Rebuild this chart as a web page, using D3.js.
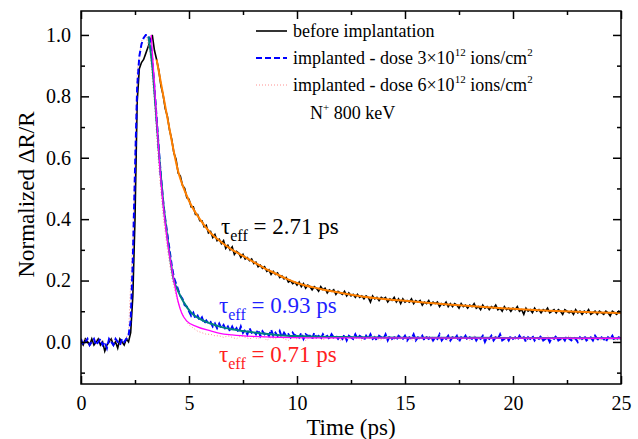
<!DOCTYPE html>
<html><head><meta charset="utf-8">
<script src="https://cdn.jsdelivr.net/npm/d3@7"></script>
<style>
body{margin:0;background:#fff}
svg{display:block}
</style>
</head><body>
<svg id="c" width="638" height="439"></svg>
<script>
// ---- data ----
const stepBefore = 0.1;   // ps between samples, starting at 0
const beforeValues = [
0.00,-0.01,0.01,0.00,-0.01,0.01,-0.01,0.00,0.01,-0.01,
0.00,-0.03,-0.01,0.00,0.01,-0.01,0.00,-0.02,0.01,0.00,
-0.01,0.01,0.00,0.03,0.15,0.40,0.78,0.89,0.91,0.92,
0.94,0.96,0.98,1.00,0.95,0.92,0.885,0.835,0.805,0.76,
0.735,0.69,0.66,0.615,0.595,0.55,0.54,0.51,0.50,0.47,
0.465,0.44,0.44,0.415,0.415,0.395,0.395,0.375,0.38,0.355,
0.36,0.34,0.35,0.33,0.335,0.32,0.33,0.305,0.315,0.30,
0.31,0.285,0.295,0.29,0.275,0.285,0.27,0.275,0.265,0.27,
0.255,0.26,0.245,0.25,0.24,0.245,0.23,0.235,0.22,0.23,
0.22,0.225,0.21,0.215,0.205,0.21,0.195,0.20,0.19,0.195,
0.185,0.195,0.18,0.19,0.175,0.185,0.18,0.17,0.18,0.175,
0.165,0.18,0.17,0.175,0.16,0.17,0.165,0.17,0.155,0.165,
0.16,0.155,0.165,0.15,0.16,0.15,0.155,0.145,0.155,0.145,
0.15,0.14,0.15,0.145,0.13,0.15,0.14,0.145,0.135,0.145,
0.14,0.145,0.13,0.14,0.135,0.145,0.13,0.14,0.125,0.14,
0.13,0.135,0.13,0.14,0.125,0.135,0.13,0.135,0.12,0.13,
0.125,0.135,0.12,0.13,0.125,0.13,0.115,0.125,0.12,0.13,
0.115,0.125,0.115,0.125,0.12,0.11,0.125,0.115,0.12,0.11,
0.12,0.115,0.125,0.11,0.115,0.105,0.12,0.11,0.115,0.105,
0.115,0.11,0.12,0.105,0.11,0.10,0.115,0.105,0.11,0.10,
0.11,0.105,0.115,0.10,0.105,0.09,0.11,0.10,0.105,0.095,
0.11,0.10,0.105,0.095,0.105,0.10,0.11,0.095,0.10,0.105,
0.095,0.105,0.10,0.09,0.105,0.10,0.095,0.10,0.09,0.105,
0.095,0.10,0.09,0.10,0.095,0.105,0.09,0.095,0.10,0.09,
0.10,0.095,0.09,0.10,0.095,0.085,0.10,0.095,0.09,0.10,
0.095];

const stepDose3 = 0.1;
const dose3Values = [
0.01,-0.01,0.00,0.01,-0.01,0.00,0.01,-0.01,0.00,0.01,
-0.01,0.00,-0.02,0.01,0.00,-0.01,0.01,0.00,-0.01,0.01,
0.00,0.01,0.02,0.07,0.27,0.56,0.83,0.93,0.97,0.99,
1.00,1.00,0.98,0.92,0.83,0.73,0.63,0.54,0.46,0.40,
0.35,0.30,0.25,0.21,0.19,0.17,0.15,0.14,0.12,0.115,
0.10,0.085,0.095,0.075,0.085,0.07,0.08,0.06,0.07,0.06,
0.065,0.05,0.06,0.045,0.06,0.045,0.055,0.04,0.05,0.035,
0.05,0.035,0.045,0.03,0.05,0.03,0.04,0.025,0.045,0.03,
0.035,0.025,0.04,0.02,0.035,0.025,0.03,0.02,0.04,0.02,
0.03,0.02,0.035,0.015,0.03,0.02,0.025,0.015,0.03,0.02,
0.025,0.015,0.03,0.01,0.025,0.02,0.02,0.01,0.03,0.015,
0.02,0.01,0.025,0.015,0.02,0.01,0.025,0.015,0.02,0.01,
0.02,0.01,0.025,0.005,0.02,0.015,0.01,0.025,0.01,0.02,
0.015,0.005,0.02,0.01,0.025,0.01,0.015,0.005,0.02,0.015,
0.01,0.025,0.005,0.02,0.01,0.015,0.005,0.02,0.015,0.01,
0.02,0.005,0.015,0.01,0.025,0.005,0.015,0.01,0.02,0.005,
0.015,0.01,0.02,0.005,0.015,0.01,0.025,0.005,0.015,0.01,
0.02,0.005,0.015,0.01,0.02,0.0,0.015,0.01,0.02,0.005,
0.015,0.01,0.02,0.005,0.015,0.01,0.02,0.0,0.015,0.01,
0.02,0.005,0.015,0.01,0.025,0.005,0.01,0.015,0.005,0.02,
0.01,0.015,0.005,0.02,0.01,0.015,0.0,0.015,0.01,0.02,
0.005,0.015,0.01,0.02,0.005,0.01,0.015,0.0,0.015,0.01,
0.02,0.005,0.01,0.015,0.005,0.02,0.01,0.005,0.015,0.01,
0.0,0.015,0.01,0.02,0.005,0.01,0.015,0.005,0.02,0.01,
0.005,0.015,0.01,0.0,0.015,0.01,0.02,0.005,0.01,0.015,
0.01];

const stepDose6 = 0.2;
const dose6Values = [
0.0,0.01,-0.01,0.0,0.01,0.0,-0.01,0.01,0.0,-0.01,
0.0,0.03,0.35,0.88,0.98,1.00,0.94,0.78,0.57,0.41,
0.30,0.21,0.15,0.105,0.075,0.055,0.045,0.035,0.03,0.025,
0.025,0.02,0.02,0.015,0.02,0.015,0.01,0.02,0.015,0.01,
0.015,0.01,0.02,0.005,0.015,0.01,0.02,0.01,0.005,0.015,
0.01,0.02,0.005,0.015,0.01,0.015,0.005,0.02,0.01,0.015,
0.005,0.01,0.02,0.01,0.015,0.005,0.015,0.01,0.02,0.005,
0.01,0.015,0.005,0.02,0.01,0.015,0.01,0.005,0.015,0.01,
0.02,0.005,0.015,0.01,0.015,0.005,0.02,0.01,0.01,0.015,
0.005,0.02,0.01,0.015,0.005,0.01,0.02,0.01,0.015,0.005,
0.015,0.01,0.02,0.005,0.01,0.015,0.01,0.005,0.02,0.01,
0.015,0.005,0.01,0.02,0.01,0.015,0.005,0.015,0.01,0.02,
0.005,0.01,0.015,0.01,0.005,0.015];

// fits
const fitBeforeT = [3.5,4.0,4.5,5.0,5.5,6.0,6.5,7.0,7.5,8.0,8.5,9.0,9.5,10,11,12,13,14,15,16,17,18,19,20,21,22,23,24,25];
const fitBeforeV = [0.92,0.73,0.555,0.46,0.40,0.355,0.325,0.30,0.28,0.26,0.24,0.223,0.206,0.192,0.174,0.16,0.148,0.14,0.134,0.128,0.122,0.117,0.112,0.108,0.104,0.101,0.098,0.096,0.094];
const fitDose3T = [3.12,3.3,3.5,3.66,3.8,4.0,4.3,4.5,4.75,5.12,5.5,6.0,6.43,7.0,8.3,9.2,10,12,15,20,25];
const fitDose3V = [0.995,0.90,0.72,0.57,0.46,0.34,0.20,0.165,0.13,0.094,0.075,0.06,0.05,0.041,0.028,0.022,0.019,0.016,0.014,0.013,0.012];
const fitDose6T = [3.25,3.4,3.5,3.66,3.8,4.0,4.2,4.3,4.5,4.66,4.9,5.36,6.0,6.43,7.0,7.97,9.2,12,25];
const fitDose6V = [1.00,0.84,0.73,0.56,0.45,0.33,0.24,0.20,0.13,0.094,0.068,0.05,0.036,0.028,0.023,0.018,0.015,0.013,0.012];

const xMajor = [0,5,10,15,20,25];
const xMinor = [2.5,7.5,12.5,17.5,22.5];
const yMajor = [0.0,0.2,0.4,0.6,0.8,1.0];
const yMinor = [-0.1,0.1,0.3,0.5,0.7,0.9];

const legendLabels = ["before implantation","implanted - dose 3\u00d710","implanted - dose 6\u00d710"];
const tauLabels = ["2.71","0.93","0.71"];

// ---- drawing ----
const FONT = 'Tinos,"Times New Roman","Liberation Serif","Nimbus Roman","Nimbus Roman No9 L",FreeSerif,"Noto Serif","DejaVu Serif",Times,serif';
const svg = d3.select("#c").style("font-family", FONT);
const L=81, R=621, T=11, B=384;
const x = d3.scaleLinear().domain([0,25]).range([L,R]);
const y = d3.scaleLinear().domain([-0.137,1.078]).range([B,T]);

const toPts = (vals, step) => vals.map((v,i)=>[i*step, v]);
const zipPts = (ts, vs) => ts.map((t,i)=>[t, vs[i]]);

const line = d3.line().x(d=>x(d[0])).y(d=>y(d[1]));
const smooth = d3.line().x(d=>x(d[0])).y(d=>y(d[1])).curve(d3.curveMonotoneX);

svg.append("clipPath").attr("id","pc").append("rect")
  .attr("x",L).attr("y",T).attr("width",R-L).attr("height",B-T);
const g = svg.append("g").attr("clip-path","url(#pc)");

g.append("path").attr("d", line(toPts(beforeValues, stepBefore)))
  .attr("fill","none").attr("stroke","#000").attr("stroke-width",1.6);
g.append("path").attr("d", smooth(zipPts(fitBeforeT, fitBeforeV)))
  .attr("fill","none").attr("stroke","#ff8000").attr("stroke-width",2);
g.append("path").attr("d", line(toPts(dose6Values, stepDose6)))
  .attr("fill","none").attr("stroke","#ff9090").attr("stroke-width",1).attr("stroke-dasharray","1,2");
g.append("path").attr("d", line(toPts(dose3Values, stepDose3)))
  .attr("fill","none").attr("stroke","#0000ff").attr("stroke-width",2).attr("stroke-dasharray","6,3");
g.append("path").attr("d", smooth(zipPts(fitDose3T, fitDose3V)))
  .attr("fill","none").attr("stroke","#008080").attr("stroke-width",2);
g.append("path").attr("d", smooth(zipPts(fitDose6T, fitDose6V)))
  .attr("fill","none").attr("stroke","#ff00ff").attr("stroke-width",1.3);

// axes
const fs = 20;
function styleAxis(sel){
  sel.attr("font-family", null).style("font-family", FONT);
  sel.select(".domain").remove();
  sel.selectAll("line").attr("stroke","#000").attr("stroke-width",1.5);
  sel.selectAll("text").attr("font-size",fs).attr("fill","#000").style("font-family", FONT);
}
svg.append("g").attr("transform",`translate(0,${B})`)
  .call(d3.axisBottom(x).tickValues(xMajor).tickSize(-8).tickPadding(12).tickFormat(d3.format("d"))).call(styleAxis);
svg.append("g").attr("transform",`translate(0,${B})`)
  .call(d3.axisBottom(x).tickValues(xMinor).tickSize(-4).tickFormat("")).call(styleAxis);
svg.append("g").attr("transform",`translate(0,${T})`)
  .call(d3.axisTop(x).tickValues(xMajor).tickSize(-8).tickFormat("")).call(styleAxis);
svg.append("g").attr("transform",`translate(0,${T})`)
  .call(d3.axisTop(x).tickValues(xMinor).tickSize(-4).tickFormat("")).call(styleAxis);
svg.append("g").attr("transform",`translate(${L},0)`)
  .call(d3.axisLeft(y).tickValues(yMajor).tickSize(-8).tickPadding(10).tickFormat(d3.format(".1f"))).call(styleAxis);
svg.append("g").attr("transform",`translate(${L},0)`)
  .call(d3.axisLeft(y).tickValues(yMinor).tickSize(-4).tickFormat("")).call(styleAxis);
svg.append("g").attr("transform",`translate(${R},0)`)
  .call(d3.axisRight(y).tickValues(yMajor).tickSize(-8).tickFormat("")).call(styleAxis);
svg.append("g").attr("transform",`translate(${R},0)`)
  .call(d3.axisRight(y).tickValues(yMinor).tickSize(-4).tickFormat("")).call(styleAxis);

svg.append("rect").attr("x",L).attr("y",T).attr("width",R-L).attr("height",B-T)
  .attr("fill","none").attr("stroke","#000").attr("stroke-width",1.5);

// axis titles
svg.append("text").attr("x",(L+R)/2).attr("y",435).attr("text-anchor","middle")
  .attr("font-size",23).text("Time (ps)");
svg.append("text").attr("transform",`translate(34,${(T+B)/2-3}) rotate(-90)`).attr("text-anchor","middle")
  .attr("font-size",23).text("Normalized \u0394R/R");

// legend
const lg = svg.append("g");
const legY = [31,58,85];
const legStyles = [
  {c:"#000", w:1.6, d:null},
  {c:"#0000ff", w:2, d:"6,3"},
  {c:"#ff9090", w:1, d:"1,2"}
];
legY.forEach((ly,i)=>{
  lg.append("line").attr("x1",256).attr("x2",287).attr("y1",ly).attr("y2",ly)
    .attr("stroke",legStyles[i].c).attr("stroke-width",legStyles[i].w)
    .attr("stroke-dasharray",legStyles[i].d);
  const t = lg.append("text").attr("x",293).attr("y",ly+6).attr("font-size",18);
  t.append("tspan").text(legendLabels[i]);
  if(i>0){
    t.append("tspan").attr("font-size",11).attr("dy",-8).text("12");
    t.append("tspan").attr("dy",8).text(" ions/cm");
    t.append("tspan").attr("font-size",11).attr("dy",-8).text("2");
  }
});
const nt = lg.append("text").attr("x",310).attr("y",119).attr("font-size",18);
nt.append("tspan").text("N");
nt.append("tspan").attr("font-size",11).attr("dy",-8).text("+");
nt.append("tspan").attr("dy",8).text(" 800 keV");

// tau annotations
const tauPos = [{x:221,y:234,c:"#000"},{x:219,y:313,c:"#1f1fff"},{x:219,y:362,c:"#ff2020"}];
tauPos.forEach((p,i)=>{
  const t = svg.append("text").attr("x",p.x).attr("y",p.y).attr("fill",p.c).attr("font-size",23);
  t.append("tspan").text("\u03c4");
  t.append("tspan").attr("font-size",16).attr("dy",7).text("eff");
  t.append("tspan").attr("dy",-7).text(" = "+tauLabels[i]+" ps");
});
</script>
</body></html>
